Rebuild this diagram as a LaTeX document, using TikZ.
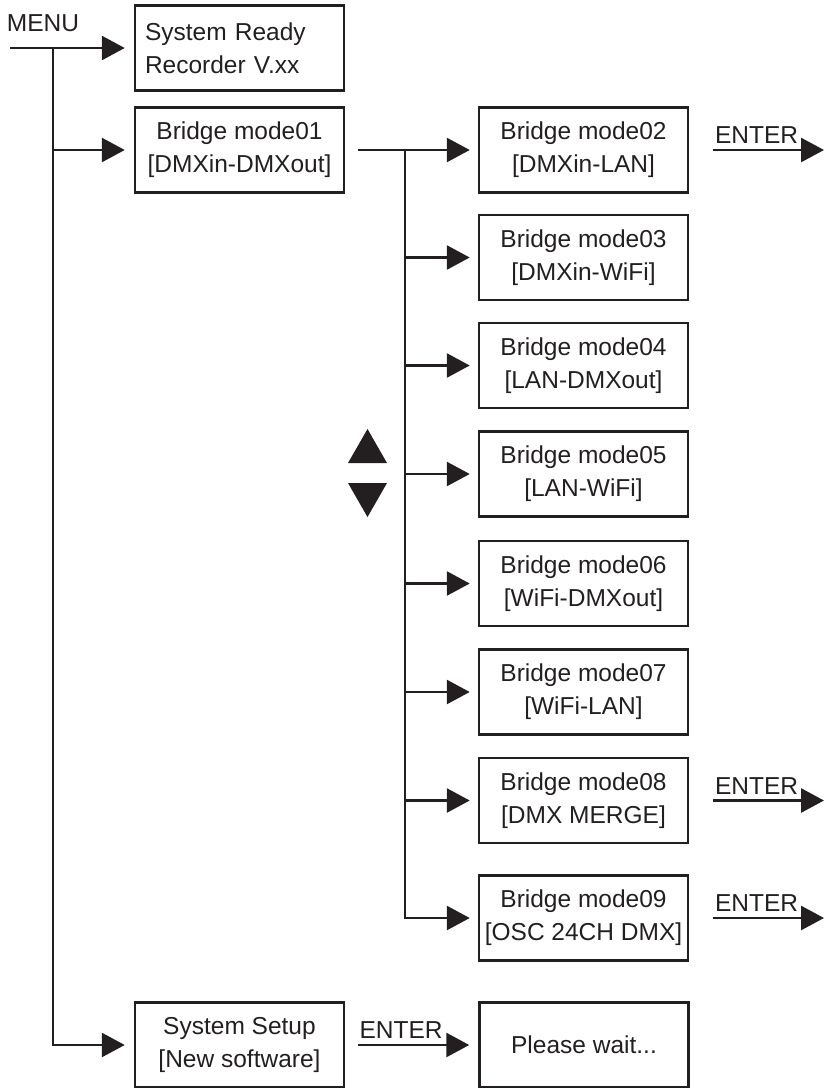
\documentclass[tikz,border=0pt]{standalone}
\usepackage{fontspec}
\setmainfont{Liberation Sans}
\usetikzlibrary{arrows.meta}
\definecolor{ink}{RGB}{35,31,32}
\tikzset{
  wire/.style  = {line width=2.8pt, draw=ink},
  arr/.style   = {wire, -{Triangle[length=23pt,width=24pt]}},
  mbox/.style  = {draw=ink, line width=2.5pt, minimum width=209pt,
                  minimum height=85pt, inner sep=0pt, align=center,
                  text=ink, font=\fontsize{24.5}{33}\selectfont},
  lbl/.style   = {text=ink, font=\fontsize{24.5}{28}\selectfont, inner sep=2pt},
  elbl/.style  = {lbl, inner sep=5pt},
}

\begin{document}
\begin{tikzpicture}[x=1pt,y=-1pt]
  \useasboundingbox (0,0) rectangle (825,1088);
  % left column
  \node[lbl] (menu) at (43,23) {MENU};
  \node[mbox, text width=189pt, align=left] (ready) at (239.5,48) {System Ready\\Recorder V.xx};
  \node[mbox] (m01) at (239.5,150) {Bridge mode01\\{[DMXin-DMXout]}};
  \node[mbox] (setup) at (239.5,1045) {System Setup\\{[New software]}};
  \node[mbox] (wait) at (584,1045) {Please wait...};
  % bridge modes
  \foreach \n/\y/\txt in {02/150/{[DMXin-LAN]}, 03/257.5/{[DMXin-WiFi]},
      04/365.5/{[LAN-DMXout]}, 05/474/{[LAN-WiFi]}, 06/583.5/{[WiFi-DMXout]},
      07/692/{[WiFi-LAN]}, 08/800.5/{[DMX MERGE]}, 09/918/{[OSC 24CH DMX]}}
    \node[mbox] (m\n) at (583.5,\y) {Bridge mode\n\\{\txt}};
  % main spine
  \coordinate (menuL) at (10,48);
  \coordinate (j0) at (53,48);
  \coordinate (j1) at (53,150);
  \draw[arr, shorten >=9pt] (menuL) -- (ready.west);
  \draw[arr, shorten >=9pt] (j1) -- (m01.west);
  \draw[arr, shorten >=9pt] (j0) |- (setup.west);
  % mode spine
  \coordinate (k0) at (405,150);
  \draw[arr, shorten <=13pt, shorten >=8pt] (m01.east) -- (m02.west);
  \foreach \n in {03,04,05,06,07,08}
    \draw[arr, shorten >=8pt] (k0 |- m\n.west) -- (m\n.west);
  \draw[arr, shorten >=8pt] (k0) |- (m09.west);
  % up / down keys
  \fill[ink] (348,463) -- (387,463) -- (367.5,429) -- cycle;
  \fill[ink] (348,483) -- (387,483) -- (367.5,517) -- cycle;
  % enter arrows
  \coordinate (eR) at (824,0);
  \foreach \n in {02,08,09} {
    \coordinate (e\n) at (m\n.east -| eR);
    \draw[arr, shorten <=24pt] (m\n.east) -- (e\n) node[elbl, above, pos=0.5] {ENTER};
  }
  \draw[arr, shorten <=13pt, shorten >=9pt] (setup.east) -- (wait.west)
    node[elbl, above, pos=0.42] {ENTER};
\end{tikzpicture}
\end{document}
